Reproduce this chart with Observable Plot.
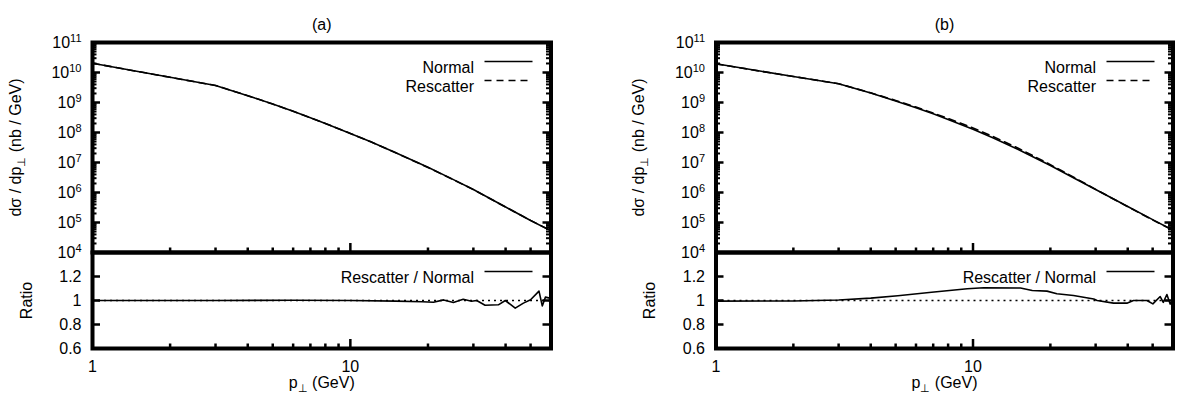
<!DOCTYPE html>
<html><head><meta charset="utf-8">
<script src="https://cdn.jsdelivr.net/npm/d3@7"></script>
<script src="https://cdn.jsdelivr.net/npm/@observablehq/plot@0.6"></script>
<style>
body{margin:0;background:#fff}
#chart{position:relative;width:1178px;height:396px;background:#fff;font-family:"Liberation Sans",Arial,sans-serif}
#chart svg{position:absolute;overflow:visible}
</style></head><body><div id="chart"></div>
<script>
// ---- data ----
const pt = [1, 1.5, 2, 3, 4, 5, 6, 7, 8, 10, 12, 15, 20, 25, 30, 40, 50, 60];
const normalA    = [2.04e10, 1.08e10, 6.9e9, 3.7e9, 1.69e9, 8.85e8, 5.08e8, 3.11e8, 2.0e8, 9.33e7, 4.89e7, 2.12e7, 6.89e6, 2.74e6, 1.26e6, 3.3e5, 1.17e5, 5.25e4];
const rescatterA = [2.04e10, 1.08e10, 6.9e9, 3.7e9, 1.69e9, 8.86e8, 5.09e8, 3.11e8, 2.0e8, 9.33e7, 4.88e7, 2.11e7, 6.82e6, 2.70e6, 1.25e6, 3.27e5, 1.175e5, 5.33e4];
const normalB    = [1.95e10, 1.1e10, 7.4e9, 4.2e9, 2.06e9, 1.13e9, 6.68e8, 4.18e8, 2.72e8, 1.29e8, 6.58e7, 2.72e7, 7.9e6, 2.89e6, 1.26e6, 3.41e5, 1.25e5, 5.5e4];
const rescatterB = [1.94e10, 1.095e10, 7.37e9, 4.22e9, 2.1e9, 1.17e9, 7.05e8, 4.46e8, 2.94e8, 1.42e8, 7.28e7, 3.0e7, 8.49e6, 3.02e6, 1.27e6, 3.36e5, 1.215e5, 5.56e4];
const ratioAx = [1, 3, 6, 10, 15, 19, 21, 23, 25.1, 27.4, 29.5, 30.9, 33.3, 37.5, 39.9, 43.6, 46.9, 50, 53.9, 55.5, 57.1, 58.7, 60];
const ratioAy = [1.0, 1.0, 1.002, 1.0, 0.995, 0.99, 0.986, 1.005, 0.983, 1.011, 0.994, 1.0, 0.961, 0.964, 1.0, 0.936, 0.978, 1.006, 1.078, 0.955, 1.028, 1.022, 1.015];
const ratioBx = [1, 2, 3, 4, 5.1, 6.9, 9.5, 11, 15.3, 17, 19.4, 21.2, 24.6, 29.5, 30.4, 35.2, 39.7, 42.1, 47.5, 50.1, 53.5, 55, 56.8, 58.5, 60];
const ratioBy = [0.995, 0.996, 1.004, 1.02, 1.04, 1.069, 1.098, 1.106, 1.104, 1.083, 1.078, 1.056, 1.042, 1.012, 1.0, 0.978, 0.978, 1.0, 1.0, 0.972, 1.033, 0.985, 1.05, 0.97, 1.01];

const panelTitles = ["(a)", "(b)"];
const yTitleTop = "dσ / dp_{⊥} (nb / GeV)";
const yTitleRatio = "Ratio";
const xTitle = "p_{⊥} (GeV)";
const legendTop = ["Normal", "Rescatter"];
const legendRatio = "Rescatter / Normal";
const topTicks = [1e4, 1e5, 1e6, 1e7, 1e8, 1e9, 1e10, 1e11];
const ratioTicks = [0.6, 0.8, 1, 1.2];
const xTickLabels = [1, 10];
const xDomain = [1, 60];
const yTopDomain = [1e4, 1e11];
const yRatioDomain = [0.6, 1.4];

// ---- helpers ----
const xMajor = [10];
const xMinor = [2, 3, 4, 5, 6, 7, 8, 9, 20, 30, 40, 50];
const yMinorTop = [];
for (let k = 4; k < 11; k++) for (let m = 2; m <= 9; m++) yMinorTop.push(m * Math.pow(10, k));

function richText(svg) {
  svg.querySelectorAll("text").forEach(t => {
    const s = t.textContent;
    if (!/[\^_]\{/.test(s)) return;
    t.textContent = "";
    const re = /([\^_])\{([^}]*)\}/g;
    let last = 0, m, cur = 0;
    const add = (str, dy, size) => {
      const ts = document.createElementNS("http://www.w3.org/2000/svg", "tspan");
      ts.textContent = str;
      if (dy) ts.setAttribute("dy", dy);
      if (size) ts.setAttribute("font-size", size);
      t.appendChild(ts);
    };
    while ((m = re.exec(s))) {
      if (m.index > last) { add(s.slice(last, m.index), -cur); cur = 0; }
      const target = m[1] === "^" ? -6 : 4;
      add(m[2], target - cur, "11px");
      cur = target;
      last = re.lastIndex;
    }
    if (last < s.length) add(s.slice(last), -cur);
  });
}

const PW = 589;
const style = {background: "transparent", overflow: "visible", fontFamily: '"Liberation Sans", Arial, sans-serif', fontSize: "16px", color: "#000"};
const panels = [
  {left: 0, fl: 92, fr: 550.5, normal: normalA, resc: rescatterA, rx: ratioAx, ry: ratioAy, title: panelTitles[0]},
  {left: 589, fl: 715.5 - 589, fr: 1172.5 - 589, normal: normalB, resc: rescatterB, rx: ratioBx, ry: ratioBy, title: panelTitles[1]}
];
const FW = 4; // frame width
const TW = 2.5; // tick width

function topPlot(p) {
  const H = 262, mt = 42, mb = 10;
  const innerW = p.fr - p.fl, innerH = H - mt - mb;
  const data = pt.map((x, i) => ({x, n: p.normal[i], r: p.resc[i]}));
  return Plot.plot({
    width: PW, height: H, marginLeft: p.fl, marginRight: PW - p.fr, marginTop: mt, marginBottom: mb,
    style,
    x: {type: "log", domain: xDomain, axis: null, label: null},
    y: {type: "log", domain: yTopDomain, axis: null, label: null},
    marks: [
      Plot.line(data, {x: "x", y: "n", stroke: "black", strokeWidth: 1.6}),
      Plot.line(data, {x: "x", y: "r", stroke: "black", strokeWidth: 1.6, strokeDasharray: "7,5"}),
      Plot.tickY(topTicks, {insetRight: innerW - 8, stroke: "black", strokeWidth: TW}),
      Plot.tickY(yMinorTop, {insetRight: innerW - 4.5, stroke: "black", strokeWidth: 2}),
      Plot.tickY(topTicks, {insetLeft: innerW - 8, stroke: "black", strokeWidth: TW}),
      Plot.tickY(yMinorTop, {insetLeft: innerW - 4.5, stroke: "black", strokeWidth: 2}),
      Plot.tickX(xMajor, {insetTop: innerH - 9, stroke: "black", strokeWidth: TW}),
      Plot.tickX(xMinor, {insetTop: innerH - 4.5, stroke: "black", strokeWidth: TW}),
      Plot.axisY({ticks: topTicks, tickSize: 0, tickPadding: 11, label: null, fontSize: 16,
        tickFormat: d => `10^{${Math.round(Math.log10(d))}}`}),
      Plot.frame({stroke: "black", strokeWidth: FW}),
      Plot.text([legendTop[0]], {text: d => d, frameAnchor: "top-right", dx: -77, dy: 19, textAnchor: "end", fontSize: 16}),
      Plot.text([legendTop[1]], {text: d => d, frameAnchor: "top-right", dx: -77, dy: 38, textAnchor: "end", fontSize: 16}),
      Plot.ruleY([yTopDomain[1]], {dy: 19, insetLeft: innerW - 66, insetRight: 18, stroke: "black", strokeWidth: 1.6}),
      Plot.ruleY([yTopDomain[1]], {dy: 38, insetLeft: innerW - 66, insetRight: 18, stroke: "black", strokeWidth: 1.6, strokeDasharray: "7,5"}),
      Plot.text([p.title], {text: d => d, frameAnchor: "top", dy: -24, fontSize: 16}),
      Plot.text([yTitleTop], {text: d => d, frameAnchor: "left", textAnchor: "middle", rotate: -90, dx: -77, fontSize: 16})
    ]
  });
}

function ratioPlot(p) {
  const H = 148, mt = 4, mb = 48;
  const innerW = p.fr - p.fl, innerH = H - mt - mb;
  const data = p.rx.map((x, i) => ({x, y: p.ry[i]}));
  const yt = ratioTicks.slice(1);
  return Plot.plot({
    width: PW, height: H, marginLeft: p.fl, marginRight: PW - p.fr, marginTop: mt, marginBottom: mb,
    style,
    x: {type: "log", domain: xDomain, axis: null, label: null},
    y: {type: "linear", domain: yRatioDomain, axis: null, label: null},
    marks: [
      Plot.ruleY([1], {stroke: "black", strokeWidth: 1.6, strokeDasharray: "2,4"}),
      Plot.line(data, {x: "x", y: "y", stroke: "black", strokeWidth: 1.6}),
      Plot.tickY(yt, {insetRight: innerW - 8, stroke: "black", strokeWidth: TW}),
      Plot.tickY(yt, {insetLeft: innerW - 8, stroke: "black", strokeWidth: TW}),
      Plot.tickX(xMajor, {insetTop: innerH - 9, stroke: "black", strokeWidth: TW}),
      Plot.tickX(xMinor, {insetTop: innerH - 4.5, stroke: "black", strokeWidth: TW}),
      Plot.axisY({ticks: ratioTicks, tickSize: 0, tickPadding: 11, label: null, fontSize: 16, tickFormat: d => String(d)}),
      Plot.axisX({ticks: xTickLabels, tickSize: 0, tickPadding: 12, label: null, fontSize: 16, tickFormat: d => String(d)}),
      Plot.frame({stroke: "black", strokeWidth: FW}),
      Plot.text([legendRatio], {text: d => d, frameAnchor: "top-right", dx: -77, dy: 19, textAnchor: "end", fontSize: 16}),
      Plot.ruleY([yRatioDomain[1]], {dy: 19, insetLeft: innerW - 66, insetRight: 18, stroke: "black", strokeWidth: 1.6}),
      Plot.text([yTitleRatio], {text: d => d, frameAnchor: "left", textAnchor: "middle", rotate: -90, dx: -66, fontSize: 16}),
      Plot.text([xTitle], {text: d => d, frameAnchor: "bottom", dy: 39, fontSize: 16})
    ]
  });
}

const root = document.getElementById("chart");
for (const p of panels) {
  const a = topPlot(p);
  a.style.left = p.left + "px"; a.style.top = "0px";
  richText(a);
  root.appendChild(a);
  const b = ratioPlot(p);
  b.style.left = p.left + "px"; b.style.top = "248px";
  richText(b);
  root.appendChild(b);
}
</script></body></html>
